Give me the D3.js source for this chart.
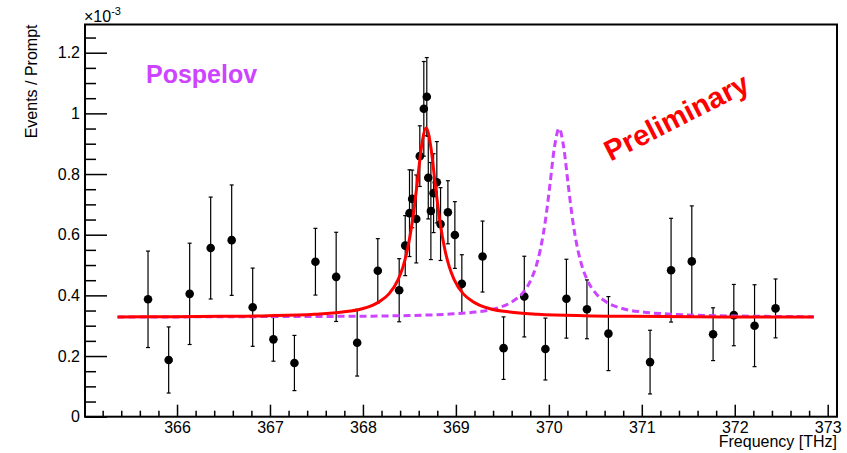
<!DOCTYPE html>
<meta charset="utf-8">
<style>
body { margin: 0; background: #fff; }
svg { font-family: "Liberation Sans", Arial, sans-serif; }
.axis path { display: none; }
.axis line { stroke: #000; stroke-width: 1.5; }
.axis text { font-size: 16px; fill: #000; font-family: "Liberation Sans", Arial, sans-serif; }
</style>
<svg width="847" height="453"></svg>
<script src="https://cdn.jsdelivr.net/npm/d3@7"></script>
<script>

// measured points (rate in units of 1e-3)
var freq = [365.688, 365.910, 366.136, 366.362, 366.588, 366.814, 367.037, 367.263, 367.489, 367.712,
            367.938, 368.160, 368.390, 368.455, 368.501, 368.530, 368.574, 368.612, 368.655, 368.687,
            368.703, 368.731, 368.760, 368.795, 368.835, 368.914, 368.989, 369.064, 369.287, 369.513,
            369.736, 369.963, 370.189, 370.410, 370.641, 371.089, 371.315, 371.538, 371.767, 371.990,
            372.213, 372.439];
var rate = [0.387, 0.187, 0.405, 0.556, 0.582, 0.361, 0.255, 0.177, 0.511, 0.461,
            0.244, 0.481, 0.417, 0.564, 0.671, 0.718, 0.652, 0.859, 1.015, 1.055,
            0.788, 0.678, 0.737, 0.773, 0.635, 0.674, 0.599, 0.438, 0.528, 0.226,
            0.396, 0.223, 0.389, 0.354, 0.274, 0.180, 0.483, 0.512, 0.272, 0.335,
            0.300, 0.357];
var rateErr = [0.159, 0.109, 0.167, 0.168, 0.182, 0.129, 0.072, 0.091, 0.110, 0.147,
               0.110, 0.106, 0.104, 0.099, 0.143, 0.095, 0.145, 0.100, 0.156, 0.129,
               0.136, 0.160, 0.130, 0.134, 0.120, 0.104, 0.110, 0.096, 0.117, 0.103,
               0.133, 0.102, 0.130, 0.097, 0.122, 0.105, 0.171, 0.183, 0.087, 0.101,
               0.135, 0.097];

// fit curve (red)
var fitFreq = [365.36, 365.98, 366.48, 366.98, 367.48, 367.78, 367.98, 368.18, 368.28, 368.38,
               368.43, 368.48, 368.53, 368.58, 368.63, 368.68, 368.73, 368.78, 368.83, 368.88,
               368.93, 368.98, 369.08, 369.18, 369.38, 369.58, 369.88, 370.38, 370.88, 371.88, 372.85];
var fitRate = [0.329, 0.3295, 0.331, 0.333, 0.338, 0.345, 0.355, 0.380, 0.405, 0.453,
               0.493, 0.553, 0.640, 0.760, 0.890, 0.952, 0.890, 0.760, 0.640, 0.553,
               0.493, 0.453, 0.405, 0.380, 0.355, 0.345, 0.338, 0.333, 0.331, 0.329, 0.3287];

// Pospelov prediction (magenta dashed)
var posFreq = [365.36, 366.50, 367.40, 367.90, 368.41, 368.91, 369.21, 369.41, 369.61, 369.71,
               369.81, 369.86, 369.91, 369.96, 370.01, 370.06, 370.11, 370.16, 370.21, 370.26,
               370.31, 370.36, 370.41, 370.51, 370.61, 370.81, 371.01, 371.31, 371.81, 372.31, 372.85];
var posRate = [0.3285, 0.3295, 0.3305, 0.331, 0.333, 0.338, 0.345, 0.355, 0.380, 0.405,
               0.453, 0.493, 0.553, 0.640, 0.760, 0.888, 0.950, 0.888, 0.760, 0.640,
               0.553, 0.493, 0.453, 0.405, 0.380, 0.355, 0.345, 0.338, 0.333, 0.331, 0.3295];

var xMajor = [366, 367, 368, 369, 370, 371, 372, 373];
var yMajor = [0, 0.2, 0.4, 0.6, 0.8, 1.0, 1.2];

var svg = d3.select("svg"),
    pLeft = 85, pRight = 837, pTop = 24.5, pBottom = 416.7;

var x = d3.scaleLinear().domain([365.01, 373.1]).range([pLeft, pRight]),
    y = d3.scaleLinear().domain([0, 1.293]).range([pBottom, pTop]);

var xMinor = d3.range(365.2, 373.05, 0.2).filter(function(v) { return Math.abs(v - Math.round(v)) > 0.01; }),
    yMinor = d3.range(0.05, 1.29, 0.05).filter(function(v) { return Math.abs(v * 5 - Math.round(v * 5)) > 0.01; });

// axes
svg.append("g")
    .attr("class", "axis")
    .attr("transform", "translate(0," + pBottom + ")")
    .call(d3.axisBottom(x).tickValues(xMinor).tickSize(-6).tickFormat(""));

svg.append("g")
    .attr("class", "axis")
    .attr("transform", "translate(0," + pBottom + ")")
    .call(d3.axisBottom(x).tickValues(xMajor).tickSize(-12).tickPadding(5).tickFormat(d3.format("d")));

svg.append("g")
    .attr("class", "axis")
    .attr("transform", "translate(" + pLeft + ",0)")
    .call(d3.axisLeft(y).tickValues(yMinor).tickSize(-11).tickFormat(""));

svg.append("g")
    .attr("class", "axis")
    .attr("transform", "translate(" + pLeft + ",0)")
    .call(d3.axisLeft(y).tickValues(yMajor).tickSize(-22).tickPadding(5)
      .tickFormat(function(d) { return d3.format("~g")(d); }));

svg.append("rect")
    .attr("x", pLeft).attr("y", pTop)
    .attr("width", pRight - pLeft).attr("height", pBottom - pTop)
    .attr("fill", "none").attr("stroke", "#000").attr("stroke-width", 2);

// axis titles
svg.append("text")
    .attr("x", pRight).attr("y", 446.5)
    .attr("text-anchor", "end")
    .attr("font-size", 16)
    .text("Frequency [THz]");

svg.append("text")
    .attr("transform", "translate(37," + pTop + ") rotate(-90)")
    .attr("text-anchor", "end")
    .attr("font-size", 16)
    .text("Events / Prompt");

var exp = svg.append("text").attr("x", 84).attr("y", 22).attr("font-size", 16);
exp.append("tspan").text("\u00d710");
exp.append("tspan").attr("dy", -7).attr("font-size", 11).text("-3");

// data points with error bars
var idx = d3.range(freq.length);

var pts = svg.append("g");
pts.selectAll(".err")
  .data(idx)
  .enter().append("line")
    .attr("x1", function(i) { return x(freq[i]); })
    .attr("x2", function(i) { return x(freq[i]); })
    .attr("y1", function(i) { return y(rate[i] - rateErr[i]); })
    .attr("y2", function(i) { return y(rate[i] + rateErr[i]); })
    .attr("stroke", "#000").attr("stroke-width", 1.2);

[-1, 1].forEach(function(s) {
  pts.selectAll(".cap" + s)
    .data(idx)
    .enter().append("line")
      .attr("x1", function(i) { return x(freq[i]) - 2; })
      .attr("x2", function(i) { return x(freq[i]) + 2; })
      .attr("y1", function(i) { return y(rate[i] + s * rateErr[i]); })
      .attr("y2", function(i) { return y(rate[i] + s * rateErr[i]); })
      .attr("stroke", "#000").attr("stroke-width", 1.2);
});

pts.selectAll("circle")
  .data(idx)
  .enter().append("circle")
    .attr("cx", function(i) { return x(freq[i]); })
    .attr("cy", function(i) { return y(rate[i]); })
    .attr("r", 4.3)
    .attr("fill", "#000");

// curves
var line = d3.line()
    .x(function(d) { return x(d[0]); })
    .y(function(d) { return y(d[1]); })
    .curve(d3.curveMonotoneX);

svg.append("path")
    .datum(d3.zip(posFreq, posRate))
    .attr("d", line)
    .attr("fill", "none")
    .attr("stroke", "#cc44ff")
    .attr("stroke-width", 3)
    .attr("stroke-dasharray", "7,4");

svg.append("path")
    .datum(d3.zip(fitFreq, fitRate))
    .attr("d", line)
    .attr("fill", "none")
    .attr("stroke", "#ff0000")
    .attr("stroke-width", 3);

// labels
svg.append("text")
    .attr("x", 146).attr("y", 83)
    .attr("font-size", 25).attr("font-weight", "bold")
    .attr("fill", "#cc44ff")
    .text("Pospelov");

svg.append("text")
    .attr("transform", "translate(681,126) rotate(-27)")
    .attr("text-anchor", "middle")
    .attr("font-size", 29).attr("font-weight", "bold")
    .attr("fill", "#ff0000")
    .text("Preliminary");

</script>
